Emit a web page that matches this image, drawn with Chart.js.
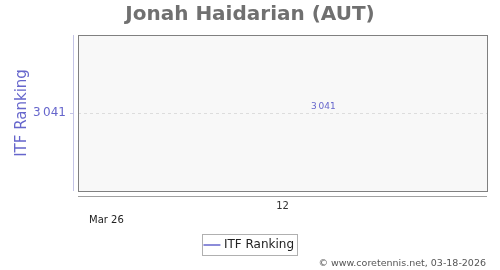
<!DOCTYPE html>
<html>
<head>
<meta charset="utf-8">
<script src="https://cdn.jsdelivr.net/npm/chart.js@4"></script>
<style>
  html, body { margin: 0; padding: 0; background: #fff; }
  #wrap { width: 500px; height: 270px; }
</style>
</head>
<body>
<div id="wrap"><canvas id="chart" width="500" height="270"></canvas></div>
<script>
// --------------------------------
// || Data
// --------------------------------

const playerName = 'Jonah Haidarian (AUT)';
const seriesLabel = 'ITF Ranking';
const weeks = [12.2];
const rankings = [3041];
const weekTicks = [12];
const rankTicks = [3041];
const monthLabel = 'Mar 26';
const credit = '\u00a9 www.coretennis.net, 03-18-2026';

const purple = '#6666cc';
const font = 'DejaVu Sans';

function fmt(n) {
    return String(n).replace(/\B(?=(\d{3})+(?!\d))/g, '\u2009');
}

// --------------------------------
// || Plugins
// --------------------------------

const frame = {
    id: 'frame',
    beforeDraw(chart) {
        const { ctx, chartArea: a } = chart;
        ctx.save();
        ctx.fillStyle = '#f8f8f8';
        ctx.fillRect(a.left, a.top, a.right - a.left, a.bottom - a.top);
        ctx.restore();
    },
    afterDraw(chart) {
        const { ctx, chartArea: a } = chart;
        const y = chart.scales.y;
        ctx.save();
        // plot box
        ctx.strokeStyle = '#808080';
        ctx.lineWidth = 1;
        ctx.strokeRect(Math.round(a.left) + 0.5, Math.round(a.top) + 0.5,
            Math.round(a.right - a.left), Math.round(a.bottom - a.top));
        // offset y axis
        ctx.strokeStyle = '#c4c4e6';
        ctx.beginPath();
        ctx.moveTo(Math.round(a.left) - 4.5, a.top);
        ctx.lineTo(Math.round(a.left) - 4.5, a.bottom);
        rankTicks.forEach(v => {
            const py = Math.round(y.getPixelForValue(v)) + 0.5;
            ctx.moveTo(Math.round(a.left) - 8, py);
            ctx.lineTo(Math.round(a.left) - 4, py);
        });
        ctx.stroke();
        // offset x axis
        ctx.strokeStyle = '#a0a0a0';
        ctx.beginPath();
        ctx.moveTo(a.left, Math.round(a.bottom) + 5.5);
        ctx.lineTo(a.right, Math.round(a.bottom) + 5.5);
        ctx.stroke();
        // month label
        ctx.fillStyle = '#222';
        ctx.font = '10px "' + font + '"';
        ctx.textBaseline = 'middle';
        ctx.textAlign = 'left';
        ctx.fillText(monthLabel, a.left + 11, a.bottom + 29);
        // value labels
        const meta = chart.getDatasetMeta(0);
        ctx.fillStyle = purple;
        ctx.font = '9px "' + font + '"';
        ctx.textAlign = 'center';
        ctx.textBaseline = 'bottom';
        meta.data.forEach((pt, i) => {
            ctx.fillText(fmt(rankings[i]), pt.x, pt.y - 2);
        });
        // legend border
        const boxes = chart.legend.legendHitBoxes;
        if (boxes && boxes.length) {
            const b = boxes[0];
            ctx.strokeStyle = '#b0b0b0';
            ctx.strokeRect(Math.round(b.left) - 3.5, Math.round(b.top) - 4.5,
                Math.round(b.width) + 7, Math.round(b.height) + 9);
        }
        // credit
        ctx.fillStyle = '#555';
        ctx.font = '9.5px "' + font + '"';
        ctx.textAlign = 'right';
        ctx.textBaseline = 'middle';
        ctx.fillText(credit, 486, 264);
        ctx.restore();
    }
};

// --------------------------------
// || Chart
// --------------------------------

const chart = new Chart(document.getElementById('chart'), {
    type: 'line',
    data: {
        datasets: [{
            label: seriesLabel,
            data: weeks.map((w, i) => ({ x: w, y: rankings[i] })),
            borderColor: purple,
            backgroundColor: purple,
            borderWidth: 1.5,
            pointRadius: 0
        }]
    },
    options: {
        responsive: false,
        animation: false,
        layout: { padding: { left: 13, right: 13, top: 0, bottom: 9 } },
        plugins: {
            title: {
                display: true,
                text: playerName,
                color: '#707070',
                font: { family: font, size: 20, weight: 'bold' },
                padding: { top: 3, bottom: 8 }
            },
            legend: {
                position: 'bottom',
                labels: {
                    usePointStyle: true,
                    pointStyle: 'line',
                    boxWidth: 14,
                    color: '#222',
                    font: { family: font, size: 12 },
                    padding: 6
                }
            },
            tooltip: { enabled: false }
        },
        scales: {
            x: {
                type: 'linear',
                min: 11,
                max: 13,
                afterBuildTicks: s => { s.ticks = weekTicks.map(v => ({ value: v })); },
                afterFit: s => { s.height = 42; },
                grid: { display: false, drawTicks: false },
                border: { display: false },
                ticks: {
                    color: '#333',
                    font: { family: font, size: 10 },
                    padding: 9,
                    maxRotation: 0
                }
            },
            y: {
                min: 3040,
                max: 3042,
                afterBuildTicks: s => { s.ticks = rankTicks.map(v => ({ value: v })); },
                afterFit: s => { s.width = 65; },
                grid: {
                    color: '#dddddd',
                    drawTicks: false
                },
                border: { display: false, dash: [3, 3] },
                title: {
                    display: true,
                    text: seriesLabel,
                    color: purple,
                    font: { family: font, size: 15 },
                    padding: { top: 0, bottom: 6 }
                },
                ticks: {
                    color: purple,
                    font: { family: font, size: 12 },
                    padding: 12,
                    callback: v => fmt(v)
                }
            }
        }
    },
    plugins: [frame]
});
</script>
</body>
</html>
